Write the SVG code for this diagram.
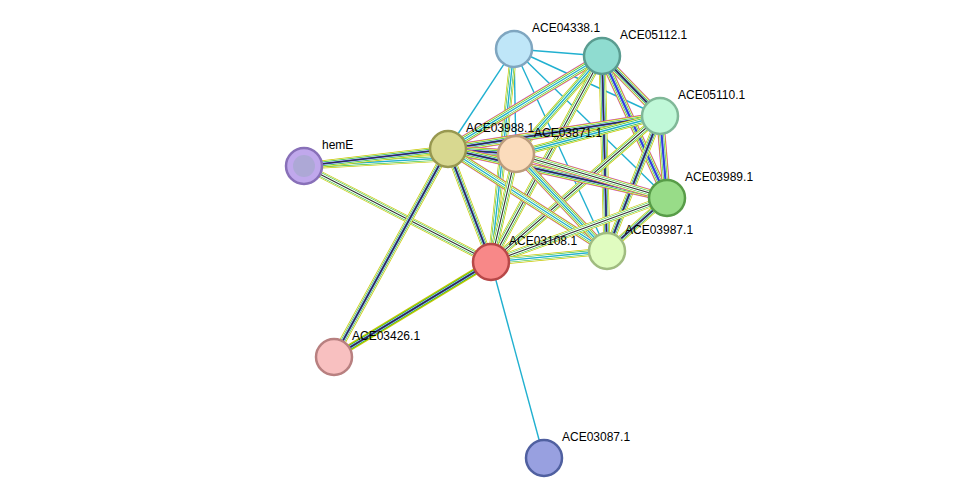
<svg xmlns="http://www.w3.org/2000/svg" xmlns:xlink="http://www.w3.org/1999/xlink" width="975" height="504" viewBox="0 0 975 504">
<style>
.e{fill:none}
.m{stroke:#d040d0;stroke-width:8}
.y{stroke:#c8c800;stroke-width:7}
.w{stroke:#fff;stroke-width:5.6}
.g{stroke:#30c030;stroke-width:4.4}
.w2{stroke:#fff;stroke-width:3.2}
.b{stroke:#3040e0;stroke-width:2.2}
.k{stroke:#333;stroke-width:1.1}
.c{stroke:#20b0d0;stroke-width:1.4}
.n{stroke-width:2.5}
text{font-family:"Liberation Sans",Arial,sans-serif;font-size:12px;fill:#000}
</style>
<defs>
<path id="a1" d="M304 166L448 149"/><path id="a2" d="M304 166L516 154"/><path id="a3" d="M304 166L491 262"/>
<path id="a4" d="M448 149L334 357"/><path id="a5" d="M491 262L334 357"/>
<path id="a6" d="M514 49L491 262"/><path id="a7" d="M602 56L448 149"/><path id="a8" d="M602 56L516 154"/>
<path id="a9" d="M602 56L491 262"/><path id="a10" d="M602 56L607 251"/><path id="a11" d="M602 56L667 198"/>
<path id="a12" d="M602 56L660 116"/><path id="a13" d="M660 116L448 149"/><path id="a14" d="M660 116L516 154"/>
<path id="a15" d="M660 116L491 262"/><path id="a16" d="M660 116L607 251"/><path id="a17" d="M660 116L667 198"/>
<path id="a18" d="M448 149L516 154"/><path id="a19" d="M448 149L667 198"/><path id="a20" d="M448 149L607 251"/>
<path id="a21" d="M448 149L491 262"/><path id="a22" d="M516 154L667 198"/><path id="a23" d="M516 154L607 251"/>
<path id="a24" d="M516 154L491 262"/><path id="a25" d="M667 198L607 251"/><path id="a26" d="M667 198L491 262"/>
<path id="a27" d="M607 251L491 262"/><path id="a28" d="M514 49L448 149"/>
</defs>
<g id="connectors" class="e">
<g class="c">
<line x1="514" y1="49" x2="602" y2="56"/><line x1="514" y1="49" x2="660" y2="116"/>
<line x1="514" y1="49" x2="667" y2="198"/><line x1="514" y1="49" x2="607" y2="251"/>
<line x1="514" y1="49" x2="516" y2="154"/><line x1="491" y1="262" x2="544" y2="458"/>
<use href="#a28"/>
</g>
<g>
<use href="#a6" class="y"/><use href="#a6" class="w"/><use href="#a6" class="g"/><use href="#a6" class="w2"/><use href="#a6" class="c"/>
<use href="#a3" class="y"/><use href="#a3" class="w"/><use href="#a3" class="g"/><use href="#a3" class="w2"/><use href="#a3" class="k"/>
<use href="#a5" class="y"/><use href="#a5" class="g"/><use href="#a5" class="w2"/><use href="#a5" class="b"/><use href="#a5" class="k"/>
<use href="#a4" class="y"/><use href="#a4" class="w"/><use href="#a4" class="g"/><use href="#a4" class="w2"/><use href="#a4" class="b"/><use href="#a4" class="k"/>
<use href="#a2" class="y"/><use href="#a2" class="w"/><use href="#a2" class="g"/><use href="#a2" class="w2"/><use href="#a2" class="c"/>
<use href="#a1" class="y"/><use href="#a1" class="w"/><use href="#a1" class="g"/><use href="#a1" class="w2"/><use href="#a1" class="b"/><use href="#a1" class="k"/>
</g>
<g>
<use href="#a7" class="m"/><use href="#a7" class="y"/><use href="#a7" class="w"/><use href="#a7" class="g"/><use href="#a7" class="w2"/><use href="#a7" class="c"/>
<use href="#a8" class="y"/><use href="#a8" class="w"/><use href="#a8" class="g"/><use href="#a8" class="w2"/><use href="#a8" class="c"/>
<use href="#a9" class="y"/><use href="#a9" class="w"/><use href="#a9" class="g"/><use href="#a9" class="w2"/><use href="#a9" class="k"/>
<use href="#a10" class="y"/><use href="#a10" class="w"/><use href="#a10" class="g"/><use href="#a10" class="w2"/><use href="#a10" class="b"/><use href="#a10" class="k"/>
<use href="#a11" class="m"/><use href="#a11" class="y"/><use href="#a11" class="w"/><use href="#a11" class="g"/><use href="#a11" class="w2"/><use href="#a11" class="b"/>
<use href="#a12" class="m"/><use href="#a12" class="y"/><use href="#a12" class="w"/><use href="#a12" class="g"/><use href="#a12" class="w2"/><use href="#a12" class="b"/><use href="#a12" class="k"/>
<use href="#a13" class="m"/><use href="#a13" class="y"/><use href="#a13" class="w"/><use href="#a13" class="g"/><use href="#a13" class="w2"/><use href="#a13" class="b"/><use href="#a13" class="k"/>
<use href="#a14" class="y"/><use href="#a14" class="w"/><use href="#a14" class="g"/><use href="#a14" class="w2"/><use href="#a14" class="c"/>
<use href="#a15" class="y"/><use href="#a15" class="w"/><use href="#a15" class="g"/><use href="#a15" class="w2"/><use href="#a15" class="k"/>
<use href="#a16" class="y"/><use href="#a16" class="w"/><use href="#a16" class="g"/><use href="#a16" class="w2"/><use href="#a16" class="b"/><use href="#a16" class="k"/>
<use href="#a17" class="m"/><use href="#a17" class="y"/><use href="#a17" class="w"/><use href="#a17" class="g"/><use href="#a17" class="w2"/><use href="#a17" class="b"/>
<use href="#a18" class="m"/><use href="#a18" class="y"/><use href="#a18" class="w"/><use href="#a18" class="g"/><use href="#a18" class="w2"/><use href="#a18" class="b"/><use href="#a18" class="k"/>
<use href="#a19" class="m"/><use href="#a19" class="y"/><use href="#a19" class="w"/><use href="#a19" class="g"/><use href="#a19" class="w2"/><use href="#a19" class="b"/><use href="#a19" class="k"/>
<use href="#a20" class="m"/><use href="#a20" class="y"/><use href="#a20" class="w"/><use href="#a20" class="g"/><use href="#a20" class="w2"/><use href="#a20" class="c"/>
<use href="#a21" class="y"/><use href="#a21" class="w"/><use href="#a21" class="g"/><use href="#a21" class="w2"/><use href="#a21" class="b"/><use href="#a21" class="k"/>
<use href="#a22" class="m"/><use href="#a22" class="y"/><use href="#a22" class="w"/><use href="#a22" class="g"/><use href="#a22" class="w2"/><use href="#a22" class="k"/>
<use href="#a23" class="m"/><use href="#a23" class="y"/><use href="#a23" class="w"/><use href="#a23" class="g"/><use href="#a23" class="w2"/><use href="#a23" class="c"/>
<use href="#a24" class="y"/><use href="#a24" class="w"/><use href="#a24" class="g"/><use href="#a24" class="w2"/><use href="#a24" class="k"/>
<use href="#a25" class="y"/><use href="#a25" class="w"/><use href="#a25" class="g"/><use href="#a25" class="w2"/><use href="#a25" class="b"/><use href="#a25" class="k"/>
<use href="#a26" class="y"/><use href="#a26" class="w"/><use href="#a26" class="g"/><use href="#a26" class="w2"/><use href="#a26" class="k"/>
<use href="#a27" class="y"/><use href="#a27" class="w"/><use href="#a27" class="g"/><use href="#a27" class="w2"/><use href="#a27" class="c"/>
</g>
</g>
<g id="n-ACE04338.1"><circle class="n" cx="514" cy="49" r="18" fill="#bfe6f8" stroke="#7fa6c0"/><text x="532" y="32">ACE04338.1</text></g>
<g id="n-ACE05112.1"><circle class="n" cx="602" cy="56" r="18" fill="#8fdcd0" stroke="#5a9c90"/><text x="620" y="39">ACE05112.1</text></g>
<g id="n-ACE05110.1"><circle class="n" cx="660" cy="116" r="18" fill="#c0f8d8" stroke="#80b898"/><text x="678" y="99">ACE05110.1</text></g>
<g id="n-hemE"><circle class="n" cx="304" cy="166" r="18" fill="#c0a8ec" stroke="#8870b8"/><circle cx="304" cy="166" r="11" fill="#a0a8c8" opacity="0.6"/><text x="322" y="149">hemE</text></g>
<g id="n-ACE03988.1"><circle class="n" cx="448" cy="149" r="18" fill="#d8d890" stroke="#989850"/><text x="466" y="132">ACE03988.1</text></g>
<g id="n-ACE03871.1"><circle class="n" cx="516" cy="154" r="18" fill="#fbdcbc" stroke="#bb9c7c"/><text x="534" y="137">ACE03871.1</text></g>
<g id="n-ACE03989.1"><circle class="n" cx="667" cy="198" r="18" fill="#98dc88" stroke="#589c48"/><text x="685" y="181">ACE03989.1</text></g>
<g id="n-ACE03987.1"><circle class="n" cx="607" cy="251" r="18" fill="#e0fcc0" stroke="#a0bc80"/><text x="625" y="234">ACE03987.1</text></g>
<g id="n-ACE03108.1"><circle class="n" cx="491" cy="262" r="18" fill="#f88888" stroke="#b84848"/><text x="509" y="245">ACE03108.1</text></g>
<g id="n-ACE03426.1"><circle class="n" cx="334" cy="357" r="18" fill="#f8c0c0" stroke="#b88080"/><text x="352" y="340">ACE03426.1</text></g>
<g id="n-ACE03087.1"><circle class="n" cx="544" cy="458" r="18" fill="#98a0e0" stroke="#5060a0"/><text x="562" y="441">ACE03087.1</text></g>
</svg>
